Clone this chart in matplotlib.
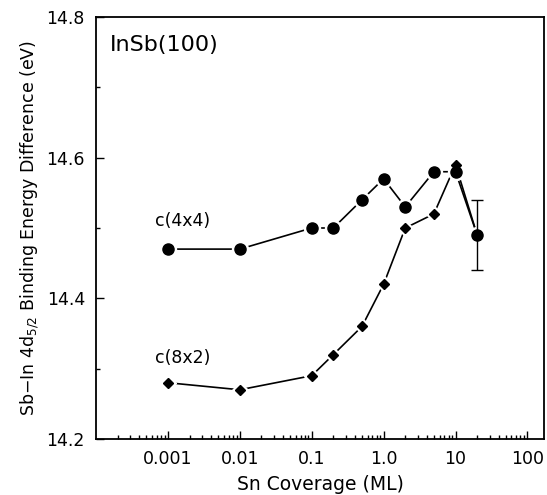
import matplotlib
matplotlib.use("Agg")
import matplotlib.pyplot as plt
from matplotlib.ticker import LogLocator, FixedLocator, NullFormatter

# Sn coverage (ML)
coverage = [0.001, 0.01, 0.1, 0.2, 0.5, 1.0, 2.0, 5.0, 10.0, 20.0]

# Sb-In 4d5/2 binding energy difference (eV)
be_c4x4 = [14.47, 14.47, 14.50, 14.50, 14.54, 14.57, 14.53, 14.58, 14.58, 14.49]
be_c8x2 = [14.28, 14.27, 14.29, 14.32, 14.36, 14.42, 14.50, 14.52, 14.59, 14.49]

# error bar on the last point
err_x = [20.0]
err_y = [14.49]
err_size = [0.05]

xtick_vals = [0.001, 0.01, 0.1, 1.0, 10, 100]
xtick_labels = ["0.001", "0.01", "0.1", "1.0", "10", "100"]
ytick_vals = [14.2, 14.4, 14.6, 14.8]

plt.rcParams['font.family'] = ['DejaVu Sans']

fig = plt.figure(figsize=(5.47, 4.95), dpi=100)
ax = fig.add_axes([96 / 547, 1 - 439 / 495, 448 / 547, 422 / 495])


def draw_series(y, marker, ms):
    # connecting line, then a white halo so the line stops short of each marker
    ax.plot(coverage, y, '-', color='black', lw=1.2, zorder=2)
    ax.plot(coverage, y, marker, color='white', ms=ms + 3.5, mec='white', zorder=3)
    ax.plot(coverage, y, marker, color='black', ms=ms, mec='black', zorder=4)


draw_series(be_c8x2, 'D', 5)
draw_series(be_c4x4, 'o', 8)

ax.errorbar(err_x, err_y, yerr=err_size, fmt='none', ecolor='black',
            elinewidth=1.0, capsize=4, capthick=1.0, zorder=5)

ax.set_xscale('log')
ax.set_xlim(1e-4, 170)
ax.set_ylim(14.2, 14.8)

ax.xaxis.set_major_locator(FixedLocator(xtick_vals))
ax.set_xticks(xtick_vals)
ax.set_xticklabels(xtick_labels)
ax.xaxis.set_minor_locator(LogLocator(base=10, subs=range(2, 10)))
ax.xaxis.set_minor_formatter(NullFormatter())

ax.set_yticks(ytick_vals)
ax.set_yticklabels([f"{v:.1f}" for v in ytick_vals])
ax.set_yticks([14.3, 14.5, 14.7], minor=True)

ax.tick_params(which='both', direction='in', top=False, right=False,
               labelsize=12.5, width=1.0)
ax.tick_params(which='major', length=6, pad=8)
ax.tick_params(which='minor', length=3)

for s in ax.spines.values():
    s.set_linewidth(1.3)

ax.set_xlabel("Sn Coverage (ML)", fontsize=13.5, labelpad=5)
ax.set_ylabel(r"Sb$-$In 4d$_{5/2}$ Binding Energy Difference (eV)",
              fontsize=12.5, labelpad=4)

ax.text(0.031, 0.934, "InSb(100)", transform=ax.transAxes, fontsize=16,
        ha='left', va='center')
ax.text(6.6e-4, 14.51, "c(4x4)", fontsize=12.5, ha='left', va='center')
ax.text(6.6e-4, 14.315, "c(8x2)", fontsize=12.5, ha='left', va='center')

fig.savefig("out.png", dpi=100)
